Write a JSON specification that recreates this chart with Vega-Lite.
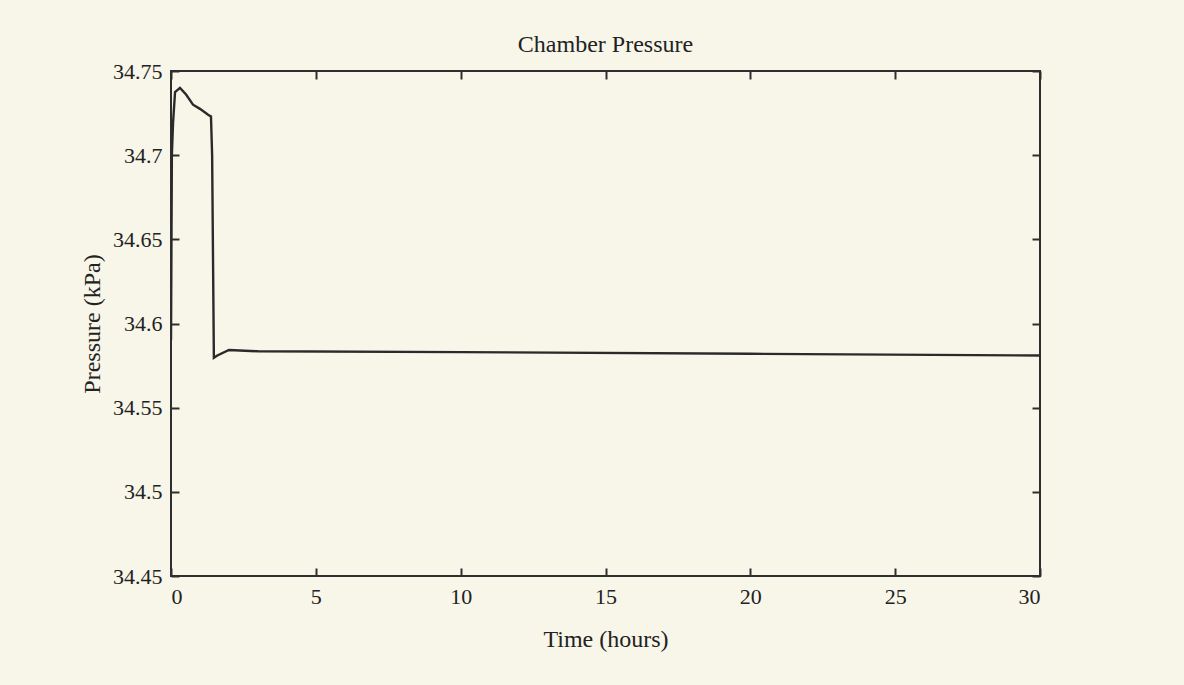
{
  "$schema": "https://vega.github.io/schema/vega-lite/v6.json",
  "autosize": {"type": "none"},
  "width": 869,
  "height": 505,
  "padding": {"left": 171, "top": 71, "right": 144, "bottom": 109},
  "background": "#f8f6e9",
  "title": {
    "text": "Chamber Pressure",
    "font": "Liberation Serif",
    "fontSize": 24,
    "fontWeight": "normal",
    "color": "#222222",
    "offset": 3
  },
  "config": {
    "view": {"stroke": "#2e2e2e", "strokeWidth": 2, "fill": "#f8f6e9"},
    "axis": {
      "domain": false,
      "grid": false,
      "tickSize": -8,
      "tickWidth": 2,
      "tickColor": "#2e2e2e",
      "labelFont": "Liberation Serif",
      "labelFontSize": 22,
      "labelColor": "#222222",
      "titleFont": "Liberation Serif",
      "titleFontSize": 24,
      "titleFontWeight": "normal",
      "titleColor": "#222222"
    }
  },
  "data": {
    "values": [
      {"t": 0.0, "p": 34.59},
      {"t": 0.03, "p": 34.70},
      {"t": 0.07, "p": 34.719},
      {"t": 0.14, "p": 34.7375},
      {"t": 0.31, "p": 34.740},
      {"t": 0.52, "p": 34.736},
      {"t": 0.76, "p": 34.730},
      {"t": 1.0, "p": 34.7275},
      {"t": 1.28, "p": 34.724},
      {"t": 1.38, "p": 34.723},
      {"t": 1.42, "p": 34.70},
      {"t": 1.48, "p": 34.5796},
      {"t": 1.6, "p": 34.581},
      {"t": 2.0, "p": 34.5843},
      {"t": 3.0, "p": 34.5835},
      {"t": 10.0, "p": 34.583},
      {"t": 20.0, "p": 34.582},
      {"t": 30.0, "p": 34.581}
    ]
  },
  "layer": [
    {
      "mark": {"type": "line", "color": "#2a2a2a", "strokeWidth": 2.4, "clip": true},
      "encoding": {
        "x": {
          "field": "t", "type": "quantitative",
          "scale": {"domain": [0, 30], "nice": false},
          "axis": {"values": [0, 5, 10, 15, 20, 25, 30], "title": "Time (hours)", "labelPadding": 18, "titlePadding": 20}
        },
        "y": {
          "field": "p", "type": "quantitative",
          "scale": {"domain": [34.45, 34.75], "nice": false, "zero": false},
          "axis": {"values": [34.45, 34.5, 34.55, 34.6, 34.65, 34.7, 34.75], "format": ".4~r", "title": "Pressure (kPa)", "labelPadding": 17, "titlePadding": 8}
        }
      }
    },
    {
      "mark": {"type": "line", "opacity": 0},
      "encoding": {
        "x": {
          "field": "t", "type": "quantitative",
          "scale": {"domain": [0, 30], "nice": false},
          "axis": {"orient": "top", "values": [0, 5, 10, 15, 20, 25, 30], "labels": false, "title": null}
        },
        "y": {
          "field": "p", "type": "quantitative",
          "scale": {"domain": [34.45, 34.75], "nice": false, "zero": false},
          "axis": {"orient": "right", "values": [34.45, 34.5, 34.55, 34.6, 34.65, 34.7, 34.75], "labels": false, "title": null}
        }
      }
    }
  ],
  "resolve": {"axis": {"x": "independent", "y": "independent"}}
}
